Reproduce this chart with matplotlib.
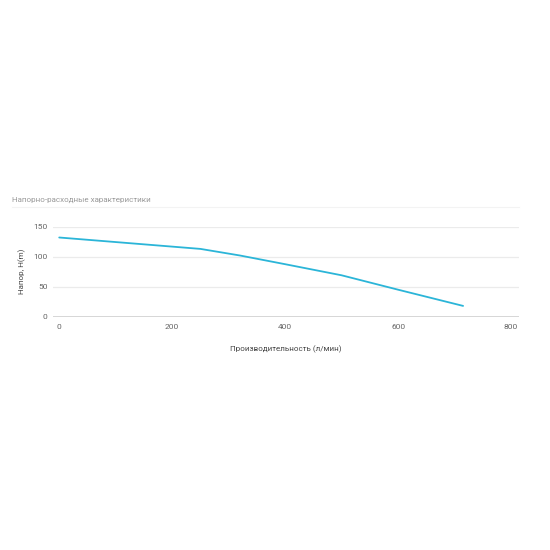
import matplotlib.pyplot as plt
from matplotlib.lines import Line2D

plt.rcParams['font.family'] = ['Roboto', 'DejaVu Sans']

# Напорно-расходная характеристика насоса
flow = [0, 250, 320, 400, 500, 600, 715]      # л/мин
head = [132, 113, 102, 87.5, 69, 45, 18]       # м

y_ticks = [0, 50, 100, 150]
x_ticks = [0, 200, 400, 600, 800]

fig = plt.figure(figsize=(5.5, 5.5), dpi=100)
fig.patch.set_facecolor('white')
ax = fig.add_axes([53 / 550, 1 - 316.7 / 550, (519 - 53) / 550, 90 / 550])

ax.plot(flow, head, color='#2bb5d8', linewidth=1.3, solid_capstyle='round', zorder=3)

ax.set_xlim(-11, 814)
ax.set_ylim(0, 150)
ax.set_xticks(x_ticks)
ax.set_yticks(y_ticks)
ax.grid(True, axis='y', color='#ebebeb', linewidth=0.9)
ax.axhline(0, color='#cccccc', linewidth=1.8, zorder=2)
for s in ax.spines.values():
    s.set_visible(False)
ax.tick_params(length=0, labelsize=6, labelcolor='#666666')
ax.tick_params(axis='x', pad=5.5)
ax.tick_params(axis='y', pad=4)

ax.set_xlabel('Производительность (л/мин)', fontsize=5.8, color='#444444', labelpad=11)
ax.set_ylabel('Напор, H(m)', fontsize=5.8, color='#444444', labelpad=5)

fig.text(12 / 550, 1 - 200 / 550, 'Напорно-расходные характеристики',
         fontsize=5.8, color='#999999', va='center', ha='left')
fig.add_artist(Line2D([12 / 550, 519 / 550], [1 - 206.7 / 550] * 2,
                      transform=fig.transFigure, color='#f3f3f3', linewidth=0.8))

fig.savefig('out.png', dpi=100, facecolor='white')
